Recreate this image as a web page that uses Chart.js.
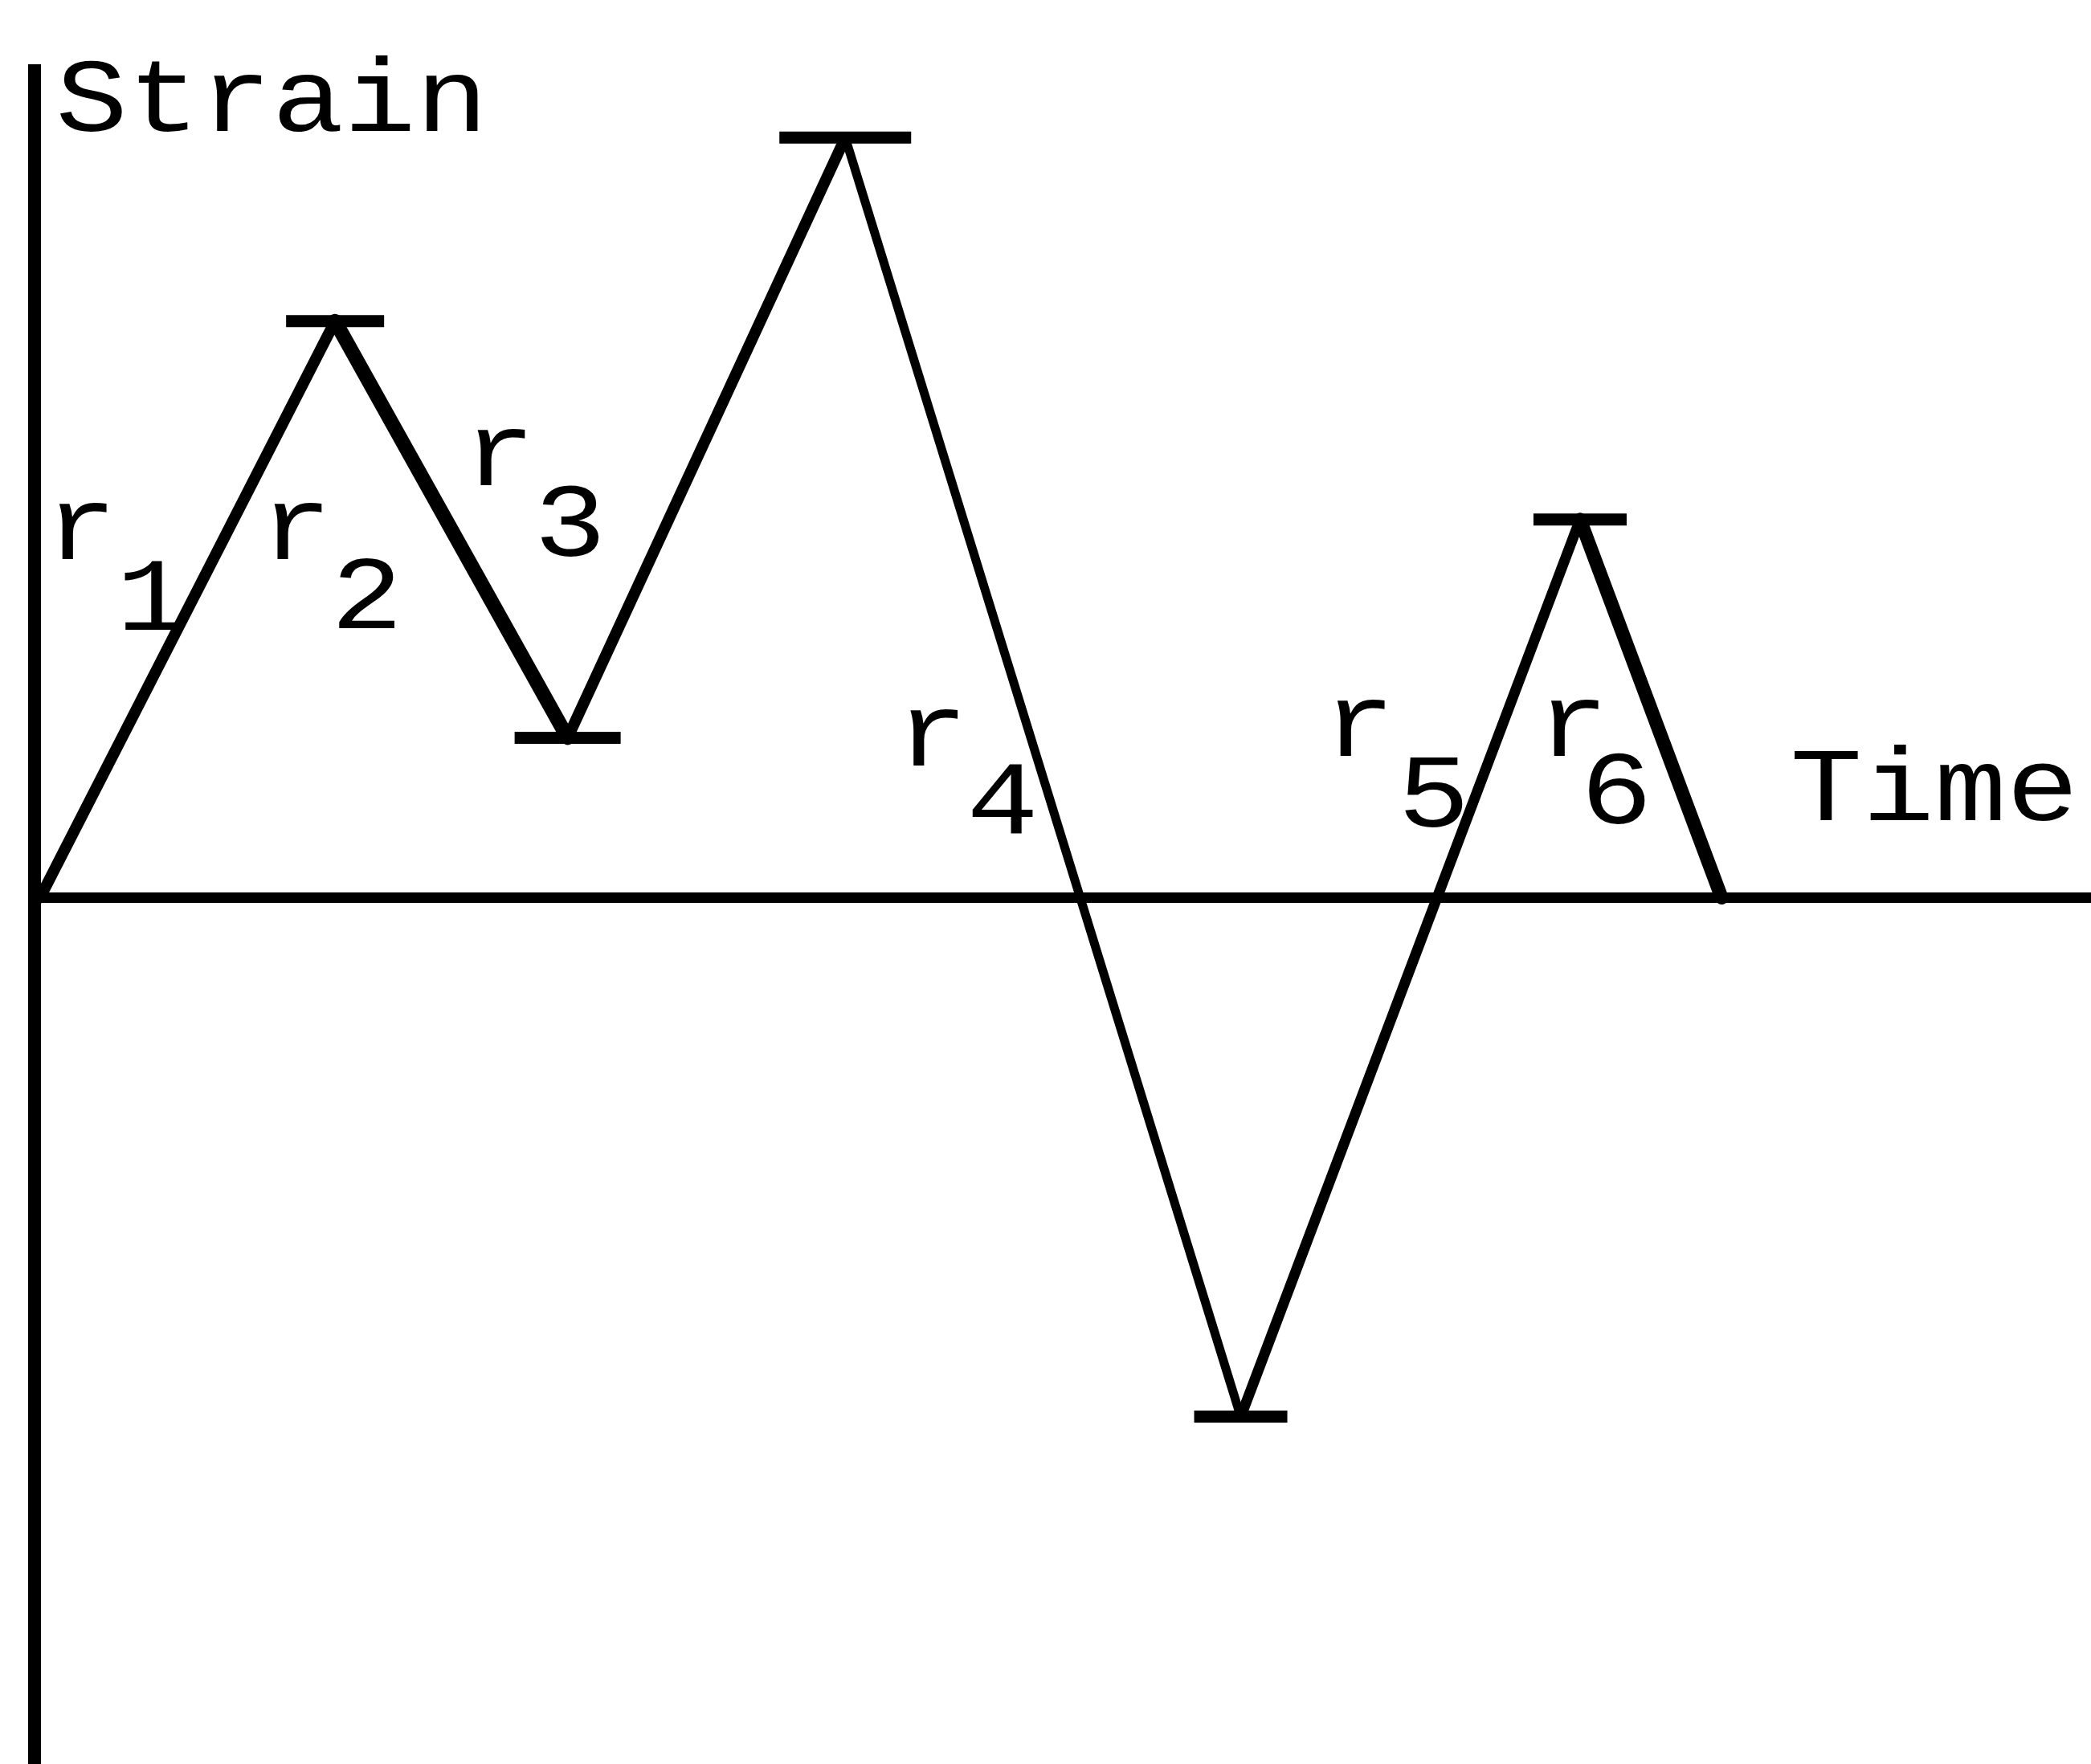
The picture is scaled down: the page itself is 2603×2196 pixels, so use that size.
<!DOCTYPE html>
<html>
<head>
<meta charset="utf-8">
<script src="https://cdn.jsdelivr.net/npm/chart.js@4.4.1/dist/chart.umd.min.js"></script>
<style>
  html, body { margin: 0; padding: 0; background: #fff; }
  canvas { display: block; }
</style>
</head>
<body>
<canvas id="strainChart" width="2603" height="2196"></canvas>
<script>
// turning points of the strain history (time, strain), arbitrary units
var times = [0.07, 3.80, 6.74, 10.25, 15.25, 19.54, 21.33];
var strains = [0, 7.32, 2.03, 9.65, -6.59, 4.80, 0];
// range names r1..r6, one per reversal
var rangeNames = ["1", "2", "3", "4", "5", "6"];
var axisTitleY = "Strain";
var axisTitleX = "Time";

// styling only
var segWidths = [14, 18, 14, 11, 13, 17];
var capRadius = [0, 61, 66, 82, 58, 58, 0];

// where the labels sit, in data units: [x of "r", baseline, x of digit, digit baseline]
var rangeLabelPos = [
  [0.59, 4.30, 1.49, 3.40],
  [3.31, 4.30, 4.20, 3.42],
  [5.88, 5.24, 6.77, 4.34],
  [11.35, 1.68, 12.24, 0.82],
  [16.75, 1.80, 17.69, 0.90],
  [19.45, 1.80, 20.00, 0.94]
];

var points = times.map(function (t, i) {
  return { x: t, y: strains[i] };
});

// courier-ish text: a bit wider than Liberation Mono, so stretch it
function wideText(c, text, x, y) {
  c.save();
  c.translate(x, y);
  c.scale(1.15, 1);
  c.fillText(text, 0, 0);
  c.restore();
}

var labelPlugin = {
  id: "rangeLabels",
  afterDatasetsDraw: function (chart) {
    var c = chart.ctx;
    var xs = chart.scales.x;
    var ys = chart.scales.y;
    c.save();
    c.fillStyle = "#000";
    c.font = '130px "Liberation Mono", monospace';
    c.textAlign = "center";
    c.textBaseline = "alphabetic";
    rangeNames.forEach(function (name, i) {
      var p = rangeLabelPos[i];
      wideText(c, "r", xs.getPixelForValue(p[0]), ys.getPixelForValue(p[1]));
      wideText(c, name, xs.getPixelForValue(p[2]), ys.getPixelForValue(p[3]));
    });
    wideText(c, axisTitleY, xs.getPixelForValue(3.0), ys.getPixelForValue(9.74));
    wideText(c, axisTitleX, xs.getPixelForValue(24.02), ys.getPixelForValue(0.98));
    c.restore();
  }
};

var ctx = document.getElementById("strainChart");

new Chart(ctx, {
  type: "line",
  data: {
    datasets: [
      {
        label: "Strain",
        data: points,
        borderColor: "#000",
        borderCapStyle: "round",
        borderJoinStyle: "round",
        tension: 0,
        fill: false,
        pointStyle: "line",
        pointRadius: capRadius,
        pointBorderWidth: 15,
        pointBorderColor: "#000",
        pointBackgroundColor: "#000",
        segment: {
          borderWidth: function (s) { return segWidths[s.p0DataIndex]; }
        },
        clip: false
      }
    ]
  },
  options: {
    responsive: false,
    animation: false,
    layout: {
      padding: { left: 43, top: 88, right: 0, bottom: 0 }
    },
    scales: {
      x: {
        type: "linear",
        min: 0,
        max: 26,
        position: { y: 0 },
        grid: { display: false, drawTicks: false },
        ticks: { display: false },
        border: { display: true, color: "#000", width: 13 }
      },
      y: {
        min: -11,
        max: 10.5,
        grid: { display: false, drawTicks: false },
        ticks: { display: false },
        border: { display: true, color: "#000", width: 16 }
      }
    },
    plugins: {
      legend: { display: false },
      tooltip: { enabled: false }
    }
  },
  plugins: [labelPlugin]
});
</script>
</body>
</html>
